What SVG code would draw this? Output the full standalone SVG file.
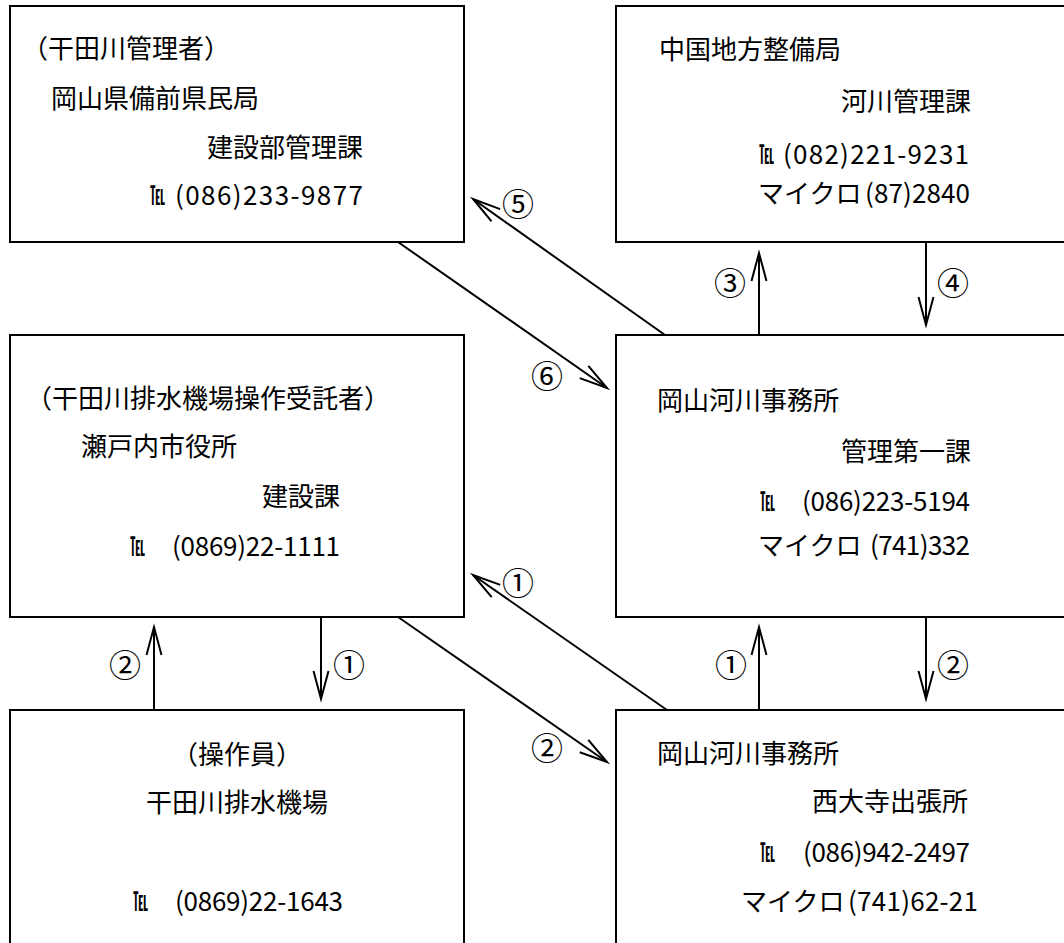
<svg xmlns="http://www.w3.org/2000/svg" width="1064" height="943" viewBox="0 0 1064 943">
<defs>
<style>
.box{fill:#fff;stroke:#000;stroke-width:2}
.t{font-family:"Noto Sans CJK JP","Noto Sans CJK SC",sans-serif;font-size:26px;fill:#000}
.tel{font-family:"Noto Sans CJK JP","Noto Sans CJK SC",sans-serif;font-size:26px;fill:#000;font-weight:bold}
.n{font-family:"Noto Sans CJK JP","Noto Sans CJK SC",sans-serif;font-size:32px;fill:#000;text-anchor:middle}
.c{fill:none;stroke:#000;stroke-width:2}
</style>
<marker id="ah" markerUnits="userSpaceOnUse" viewBox="-30 -10 32 20" refX="0" refY="0" markerWidth="32" markerHeight="20" orient="auto" overflow="visible">
<path d="M-28,-7.5 L0,0 L-28,7.5" fill="none" stroke="#000" stroke-width="2"/>
</marker>
</defs>
<rect width="1064" height="943" fill="#fff"/>

<g id="nodeA">
<rect class="box" x="10" y="6" width="454" height="236"/>
<text class="t" x="22" y="58">（干田川管理者）</text>
<text class="t" x="51" y="108">岡山県備前県民局</text>
<text class="t" x="207" y="157">建設部管理課</text>
<text class="tel" x="150" y="205" textLength="15" lengthAdjust="spacingAndGlyphs">℡</text>
<text class="t" x="175" y="205" textLength="188">(086)233-9877</text>
</g>

<g id="nodeB">
<rect class="box" x="616" y="6" width="460" height="236"/>
<text class="t" x="659" y="59">中国地方整備局</text>
<text class="t" x="841" y="111">河川管理課</text>
<text class="tel" x="759" y="164" textLength="15" lengthAdjust="spacingAndGlyphs">℡</text>
<text class="t" x="783" y="164" textLength="186">(082)221-9231</text>
<text class="t" x="758" y="203">マイクロ</text>
<text class="t" x="865" y="203" textLength="105">(87)2840</text>
</g>

<g id="nodeC">
<rect class="box" x="10" y="335" width="454" height="282"/>
<text class="t" x="26" y="408">（干田川排水機場操作受託者）</text>
<text class="t" x="81" y="456">瀬戸内市役所</text>
<text class="t" x="262" y="506">建設課</text>
<text class="tel" x="130" y="556" textLength="15" lengthAdjust="spacingAndGlyphs">℡</text>
<text class="t" x="172" y="556" textLength="168">(0869)22-1111</text>
</g>

<g id="nodeD">
<rect class="box" x="616" y="335" width="460" height="282"/>
<text class="t" x="657" y="410">岡山河川事務所</text>
<text class="t" x="841" y="461">管理第一課</text>
<text class="tel" x="760" y="511" textLength="15" lengthAdjust="spacingAndGlyphs">℡</text>
<text class="t" x="802" y="511" textLength="168">(086)223-5194</text>
<text class="t" x="758" y="555">マイクロ</text>
<text class="t" x="870" y="555" textLength="100">(741)332</text>
</g>

<g id="nodeE">
<rect class="box" x="10" y="710" width="454" height="260"/>
<text class="t" x="237" y="764" text-anchor="middle">（操作員）</text>
<text class="t" x="237" y="812" text-anchor="middle">干田川排水機場</text>
<text class="tel" x="133" y="911" textLength="15" lengthAdjust="spacingAndGlyphs">℡</text>
<text class="t" x="175" y="911" textLength="168">(0869)22-1643</text>
</g>

<g id="nodeF">
<rect class="box" x="616" y="710" width="460" height="260"/>
<text class="t" x="657" y="763">岡山河川事務所</text>
<text class="t" x="812" y="811">西大寺出張所</text>
<text class="tel" x="760" y="862" textLength="15" lengthAdjust="spacingAndGlyphs">℡</text>
<text class="t" x="803" y="862" textLength="167">(086)942-2497</text>
<text class="t" x="741" y="911">マイクロ</text>
<text class="t" x="848" y="911" textLength="130">(741)62-21</text>
</g>

<g id="connectors">
<line class="c" x1="665" y1="335" x2="473" y2="199" marker-end="url(#ah)"/>
<line class="c" x1="398" y1="242" x2="607" y2="388" marker-end="url(#ah)"/>
<line class="c" x1="759" y1="335" x2="759" y2="253" marker-end="url(#ah)"/>
<line class="c" x1="926" y1="242" x2="926" y2="325" marker-end="url(#ah)"/>
<line class="c" x1="667" y1="710" x2="473" y2="575" marker-end="url(#ah)"/>
<line class="c" x1="398" y1="617" x2="607" y2="762" marker-end="url(#ah)"/>
<line class="c" x1="154" y1="710" x2="154" y2="627" marker-end="url(#ah)"/>
<line class="c" x1="321" y1="617" x2="321" y2="699" marker-end="url(#ah)"/>
<line class="c" x1="759" y1="710" x2="759" y2="627" marker-end="url(#ah)"/>
<line class="c" x1="926" y1="617" x2="926" y2="699" marker-end="url(#ah)"/>
<text class="n" x="518" y="216">⑤</text>
<text class="n" x="547" y="388">⑥</text>
<text class="n" x="730" y="295">③</text>
<text class="n" x="953" y="295">④</text>
<text class="n" x="518" y="595">①</text>
<text class="n" x="547" y="760">②</text>
<text class="n" x="125" y="677">②</text>
<text class="n" x="349" y="677">①</text>
<text class="n" x="731" y="677">①</text>
<text class="n" x="953" y="677">②</text>
</g>
</svg>
